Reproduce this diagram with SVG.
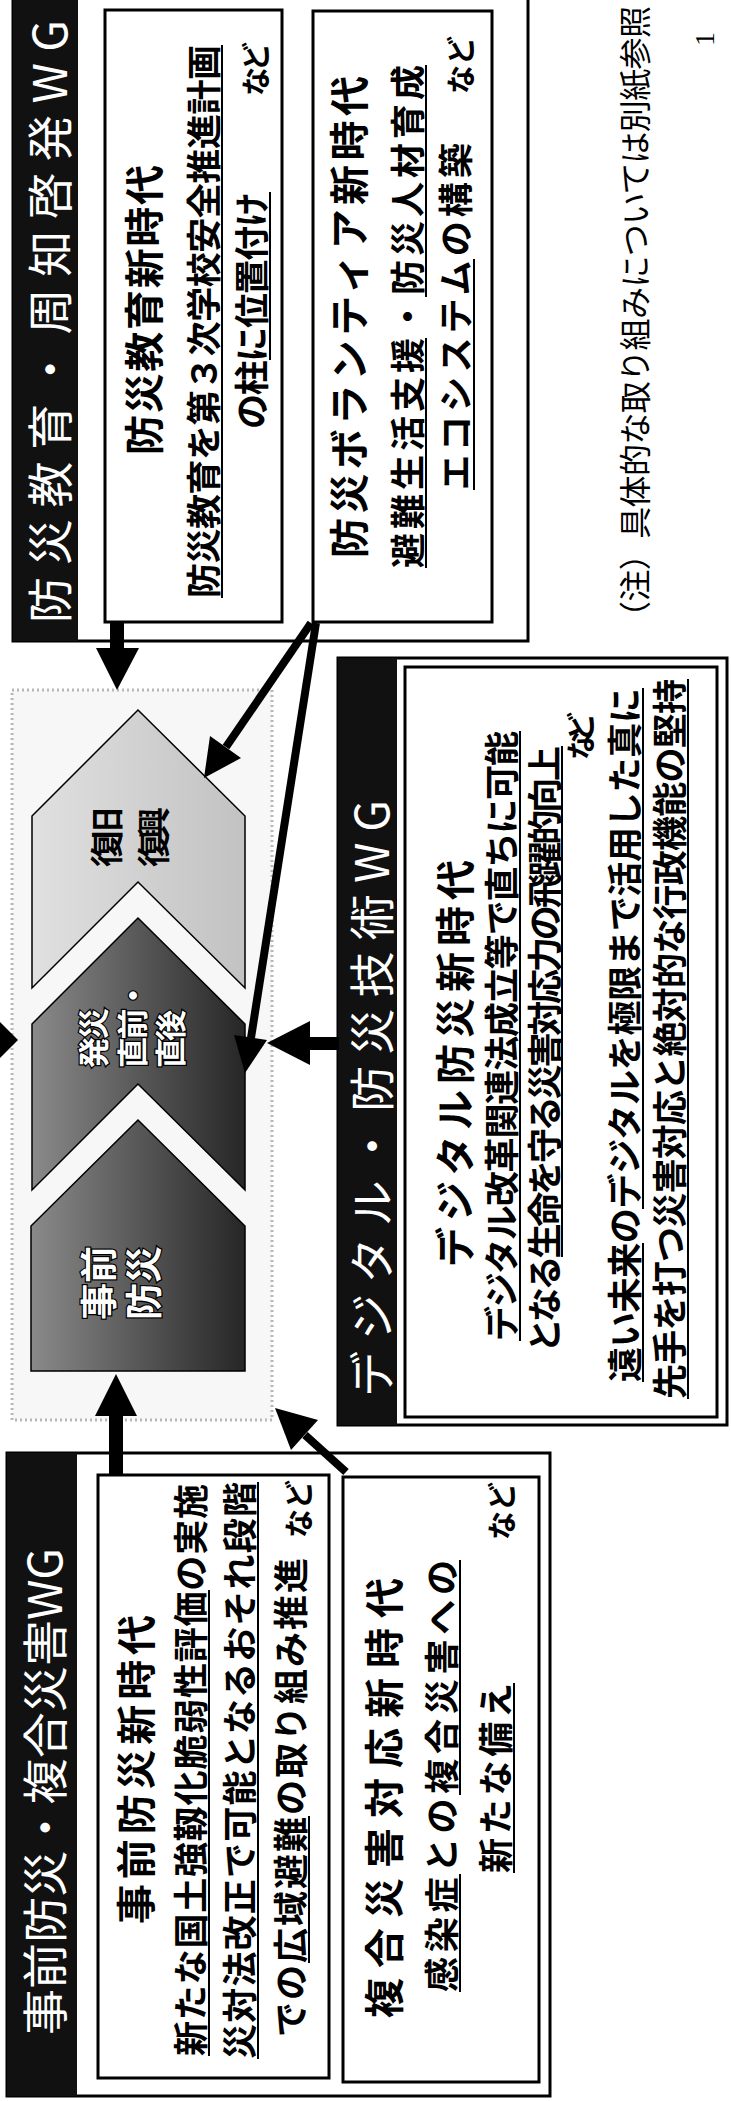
<svg xmlns="http://www.w3.org/2000/svg" width="731" height="2101" viewBox="0 0 731 2101">
<defs>
<style>
text{font-family:"Noto Sans CJK JP","Noto Sans CJK SC",sans-serif;dominant-baseline:central}
.b{font-weight:700;fill:#000}
.h{font-weight:400;fill:#fff;font-size:46px}
.ti{font-size:40px}
.bd{font-size:35px}
.nd{font-size:29px}
.nt{font-weight:400;fill:#000;font-size:32px}
.box{fill:#fff;stroke:#000;stroke-width:3}
.outer{fill:#fff;stroke:#000;stroke-width:3}
.bar{fill:#111}
.ul{stroke:#000;stroke-width:2}
.ar{fill:#000}
.ln{stroke:#000;stroke-width:8;fill:none}
.cw{fill:#fff;stroke:#000;stroke-width:2.5;paint-order:stroke;font-weight:700}
.cb{fill:#000;font-weight:700}
.chev{stroke:#000;stroke-width:1.5}
</style>
<linearGradient id="gd" x1="0" y1="0" x2="1" y2="0">
<stop offset="0" stop-color="#8a8a8a"/><stop offset="1" stop-color="#262626"/>
</linearGradient>
<linearGradient id="gl" x1="0" y1="0" x2="1" y2="0">
<stop offset="0" stop-color="#e0e0e0"/><stop offset="1" stop-color="#c2c2c2"/>
</linearGradient>
</defs>

<!-- 防災教育・周知啓発WG -->
<g id="wg-kyouiku">
<rect class="outer" x="13" y="-10" width="515" height="651"/>
<rect class="bar" x="13" y="-10" width="65" height="651"/>
<text class="h" transform="translate(47,623) rotate(-90)" textLength="603" lengthAdjust="spacing">防災教育・周知啓発WG</text>
<g id="node-kyouiku-shinjidai">
<rect class="box" x="105" y="10" width="177" height="612"/>
<text class="b ti" transform="translate(142,455) rotate(-90)" textLength="290" lengthAdjust="spacing">防災教育新時代</text>
<text class="b bd" transform="translate(201,598) rotate(-90)" textLength="553" lengthAdjust="spacing">防災教育を第３次学校安全推進計画</text>
<line class="ul" x1="222" y1="45" x2="222" y2="598"/>
<text class="b bd" transform="translate(249,429) rotate(-90)" textLength="237" lengthAdjust="spacing">の柱に位置付け</text>
<line class="ul" x1="270" y1="192" x2="270" y2="360"/>
<text class="b nd" transform="translate(254,96) rotate(-90)" textLength="54" lengthAdjust="spacing">など</text>
</g>
<g id="node-volunteer-shinjidai">
<rect class="box" x="313" y="11" width="179" height="611"/>
<text class="b ti" transform="translate(347,558) rotate(-90)" textLength="482" lengthAdjust="spacing">防災ボランティア新時代</text>
<text class="b bd" transform="translate(405,568) rotate(-90)" textLength="503" lengthAdjust="spacing">避難生活支援・防災人材育成</text>
<line class="ul" x1="426" y1="338" x2="426" y2="568"/>
<line class="ul" x1="426" y1="65" x2="426" y2="297"/>
<text class="b bd" transform="translate(453,490) rotate(-90)" textLength="347" lengthAdjust="spacing">エコシステムの構築</text>
<line class="ul" x1="474" y1="259" x2="474" y2="490"/>
<text class="b nd" transform="translate(459,94) rotate(-90)" textLength="58" lengthAdjust="spacing">など</text>
</g>
</g>

<g id="note">
<text class="nt" transform="translate(633,633) rotate(-90)" textLength="627" lengthAdjust="spacing">（注）具体的な取り組みについては別紙参照</text>
<text transform="translate(704,46) rotate(-90)" style="font-family:'Liberation Serif',serif;font-size:28px;fill:#000">1</text>
</g>

<!-- chevrons -->
<g id="phase-area">
<rect x="12" y="690" width="260" height="730" fill="#f7f7f7" stroke="#b8b8b8" stroke-width="3" stroke-dasharray="2 3"/>
</g>
<g id="chev-fukkyu">
<polygon class="chev" points="32,816 138,710 245,816 245,988 138,882 32,988" fill="url(#gl)"/>
<text class="cb" style="font-size:33px" transform="translate(105,867) rotate(-90)" textLength="60" lengthAdjust="spacing">復旧</text>
<text class="cb" style="font-size:33px" transform="translate(152,867) rotate(-90)" textLength="60" lengthAdjust="spacing">復興</text>
</g>
<g id="chev-hassai">
<polygon class="chev" points="32,1024 138,918 245,1024 245,1190 138,1084 32,1190" fill="url(#gd)"/>
<text class="cw" style="font-size:31px" transform="translate(91,1068) rotate(-90)" textLength="60" lengthAdjust="spacing">発災</text>
<text class="cw" style="font-size:31px" transform="translate(130,1068) rotate(-90)" textLength="88" lengthAdjust="spacing">直前・</text>
<text class="cw" style="font-size:31px" transform="translate(168,1068) rotate(-90)" textLength="58" lengthAdjust="spacing">直後</text>
</g>
<g id="chev-jizen">
<polygon class="chev" points="31,1226 138,1120 245,1226 245,1371 31,1371" fill="url(#gd)"/>
<text class="cw" style="font-size:37px" transform="translate(97,1320) rotate(-90)" textLength="74" lengthAdjust="spacing">事前</text>
<text class="cw" style="font-size:37px" transform="translate(142,1320) rotate(-90)" textLength="74" lengthAdjust="spacing">防災</text>
</g>

<!-- デジタル・防災技術WG -->
<g id="wg-digital">
<rect class="outer" x="338" y="658" width="389" height="767"/>
<rect class="bar" x="338" y="658" width="59" height="767"/>
<text class="h" transform="translate(369,1397) rotate(-90)" textLength="597" lengthAdjust="spacing">デジタル・防災技術WG</text>
<g id="node-digital-shinjidai">
<rect class="box" x="405" y="667" width="312" height="750"/>
<text class="b ti" transform="translate(453,1267) rotate(-90)" textLength="407" lengthAdjust="spacing">デジタル防災新時代</text>
<text class="b bd" transform="translate(499,1341) rotate(-90)" textLength="610" lengthAdjust="spacing">デジタル改革関連法成立等で直ちに可能</text>
<line class="ul" x1="520" y1="731" x2="520" y2="1341"/>
<text class="b bd" transform="translate(542,1353) rotate(-90)" textLength="607" lengthAdjust="spacing">となる生命を守る災害対応力の飛躍的向上</text>
<line class="ul" x1="562" y1="746" x2="562" y2="1257"/>
<text class="b nd" transform="translate(579,760) rotate(-90)" textLength="48" lengthAdjust="spacing">など</text>
<text class="b bd" transform="translate(622,1382) rotate(-90)" textLength="694" lengthAdjust="spacing">遠い未来のデジタルを極限まで活用した真に</text>
<line class="ul" x1="643" y1="1243" x2="643" y2="1382"/>
<line class="ul" x1="643" y1="688" x2="643" y2="1209"/>
<text class="b bd" transform="translate(667,1399) rotate(-90)" textLength="720" lengthAdjust="spacing">先手を打つ災害対応と絶対的な行政機能の堅持</text>
<line class="ul" x1="688" y1="679" x2="688" y2="1399"/>
</g>
</g>

<!-- 事前防災・複合災害WG -->
<g id="wg-jizen">
<rect class="outer" x="7" y="1453" width="543" height="643"/>
<rect class="bar" x="7" y="1453" width="70" height="643"/>
<text class="h" transform="translate(42,2035) rotate(-90)" textLength="487" lengthAdjust="spacing">事前防災・複合災害WG</text>
<g id="node-jizen-shinjidai">
<rect class="box" x="98" y="1475" width="231" height="603"/>
<text class="b ti" transform="translate(134,1924) rotate(-90)" textLength="309" lengthAdjust="spacing">事前防災新時代</text>
<text class="b bd" transform="translate(188,2056) rotate(-90)" textLength="572" lengthAdjust="spacing">新たな国土強靱化脆弱性評価の実施</text>
<line class="ul" x1="209" y1="1590" x2="209" y2="2056"/>
<text class="b bd" transform="translate(237,2059) rotate(-90)" textLength="577" lengthAdjust="spacing">災対法改正で可能となるおそれ段階</text>
<line class="ul" x1="258" y1="1482" x2="258" y2="2059"/>
<text class="b bd" transform="translate(288,2037) rotate(-90)" textLength="479" lengthAdjust="spacing">での広域避難の取り組み推進</text>
<line class="ul" x1="309" y1="1816" x2="309" y2="1963"/>
<text class="b nd" transform="translate(297,1538) rotate(-90)" textLength="58" lengthAdjust="spacing">など</text>
</g>
<g id="node-fukugou-shinjidai">
<rect class="box" x="343" y="1477" width="196" height="605"/>
<text class="b ti" transform="translate(382,2018) rotate(-90)" textLength="440" lengthAdjust="spacing">複合災害対応新時代</text>
<text class="b bd" transform="translate(439,1992) rotate(-90)" textLength="432" lengthAdjust="spacing">感染症との複合災害への</text>
<line class="ul" x1="460" y1="1874" x2="460" y2="1992"/>
<line class="ul" x1="460" y1="1560" x2="460" y2="1795"/>
<text class="b bd" transform="translate(493,1873) rotate(-90)" textLength="190" lengthAdjust="spacing">新たな備え</text>
<line class="ul" x1="514" y1="1683" x2="514" y2="1873"/>
<text class="b nd" transform="translate(500,1540) rotate(-90)" textLength="58" lengthAdjust="spacing">など</text>
</g>
</g>

<!-- connectors -->
<g id="connectors">
<rect class="ar" x="110" y="622" width="14" height="28"/>
<polygon class="ar" points="96,648 139,648 117,690"/>
<rect class="ar" x="109" y="1414" width="14" height="62"/>
<polygon class="ar" points="95,1416 137,1416 116,1374"/>
<rect class="ar" x="306" y="1037" width="33" height="13"/>
<polygon class="ar" points="310,1021 310,1065 267,1043"/>
<polygon class="ar" points="0,1022 18,1040 0,1058"/>
<line class="ln" x1="311" y1="623" x2="226" y2="747"/>
<polygon class="ar" points="204,778 241,758 210,736"/>
<line class="ln" x1="316" y1="623" x2="251" y2="1038"/>
<polygon class="ar" points="245,1073 267,1040 234,1035"/>
<line class="ln" x1="346" y1="1472" x2="305" y2="1435"/>
<polygon class="ar" points="275,1408 318,1420 291,1450"/>
</g>
</svg>
